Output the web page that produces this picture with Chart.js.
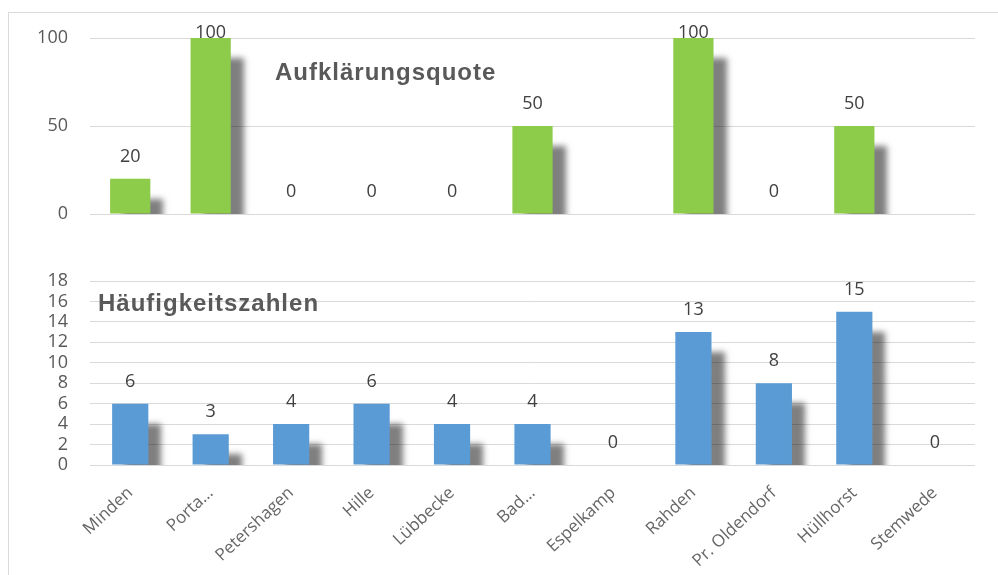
<!DOCTYPE html>
<html>
<head>
<meta charset="utf-8">
<script src="https://cdn.jsdelivr.net/npm/chart.js@4.4.1/dist/chart.umd.min.js"></script>
<style>
  body { margin: 0; background: #fff; width: 998px; height: 575px; overflow: hidden; position: relative; }
  #frame { position: absolute; left: 8px; top: 12px; width: 1000px; height: 600px; border-top: 1px solid #d9d9d9; border-left: 1px solid #d9d9d9; }
  .box { position: absolute; left: 8px; width: 990px; }
  #topBox { top: 12px; height: 215px; }
  #bottomBox { top: 230px; height: 345px; }
</style>
</head>
<body>
<div id="frame"></div>
<div class="box" id="topBox"><canvas id="quote"></canvas></div>
<div class="box" id="bottomBox"><canvas id="counts"></canvas></div>
<script>
const towns = ['Minden', 'Porta…', 'Petershagen', 'Hille', 'Lübbecke', 'Bad…', 'Espelkamp', 'Rahden', 'Pr. Oldendorf', 'Hüllhorst', 'Stemwede'];
const quoteValues = [20, 100, 0, 0, 0, 50, null, 100, 0, 50, null];
const countValues = [6, 3, 4, 6, 4, 4, 0, 13, 8, 15, 0];
const quoteTicks = [0, 50, 100];
const countTicks = [0, 2, 4, 6, 8, 10, 12, 14, 16, 18];

const gray = '#595959';
const gridColor = '#d9d9d9';

// gray drop shadow behind the bars, like the office chart
const shadowPlugin = {
    id: 'shadow',
    beforeDatasetDraw(chart) {
        const ctx = chart.ctx;
        ctx.save();
        ctx.shadowColor = 'rgba(0,0,0,0.5)';
        ctx.shadowOffsetX = 13;
        ctx.shadowOffsetY = 20;
        ctx.shadowBlur = 6;
    },
    afterDatasetDraw(chart) {
        chart.ctx.restore();
    }
};

// value labels above each bar (kept inside the plot like excel does)
const valueLabels = {
    id: 'valueLabels',
    afterDatasetsDraw(chart) {
        const ctx = chart.ctx;
        const meta = chart.getDatasetMeta(0);
        const data = chart.data.datasets[0].data;
        ctx.save();
        ctx.font = '18px "Open Sans", sans-serif';
        ctx.fillStyle = '#404040';
        ctx.textAlign = 'center';
        ctx.textBaseline = 'middle';
        meta.data.forEach((bar, i) => {
            if (data[i] === null) return;
            const y = Math.max(bar.y - 22, chart.chartArea.top - 5);
            ctx.fillText(String(data[i]), bar.x, y);
        });
        ctx.restore();
    }
};

// chart caption inside the plot area
const caption = {
    id: 'caption',
    afterDraw(chart, args, opts) {
        const ctx = chart.ctx;
        ctx.save();
        ctx.font = 'bold 24px "Liberation Sans", Arial, sans-serif';
        ctx.letterSpacing = '1px';
        ctx.fillStyle = gray;
        ctx.textBaseline = 'middle';
        ctx.fillText(opts.text, chart.chartArea.left + opts.dx, chart.chartArea.top + opts.dy);
        ctx.restore();
    }
};

function yAxis(max, ticks) {
    return {
        min: 0,
        max: max,
        afterBuildTicks: (scale) => { scale.ticks = ticks.map(v => ({value: v})); },
        afterFit: (scale) => {
            scale.width = 82;
            // let layout.padding alone decide the plot height
            scale.paddingTop = 0;
            scale.paddingBottom = 0;
        },
        border: { display: false },
        grid: { color: gridColor, drawTicks: false, lineWidth: 1 },
        ticks: { color: gray, padding: 22, autoSkip: false, font: { family: '"Open Sans", sans-serif', size: 18 } }
    };
}

new Chart(document.getElementById('quote'), {
    type: 'bar',
    data: {
        labels: towns,
        datasets: [{
            label: 'Aufklärungsquote',
            data: quoteValues,
            backgroundColor: '#8dcb4a',
            barPercentage: 0.5,
            categoryPercentage: 1
        }]
    },
    options: {
        responsive: true,
        maintainAspectRatio: false,
        animation: false,
        layout: { padding: { top: 26, right: 23, bottom: 13, left: 0 } },
        plugins: {
            legend: { display: false },
            tooltip: { enabled: false },
            caption: { text: 'Aufklärungsquote', dx: 185, dy: 35 }
        },
        scales: {
            x: { display: false },
            y: yAxis(100, quoteTicks)
        }
    },
    plugins: [shadowPlugin, valueLabels, caption]
});

new Chart(document.getElementById('counts'), {
    type: 'bar',
    data: {
        labels: towns,
        datasets: [{
            label: 'Häufigkeitszahlen',
            data: countValues,
            backgroundColor: '#5b9bd5',
            barPercentage: 0.45,
            categoryPercentage: 1
        }]
    },
    options: {
        responsive: true,
        maintainAspectRatio: false,
        animation: false,
        layout: { padding: { top: 51, right: 23, bottom: 0, left: 0 } },
        plugins: {
            legend: { display: false },
            tooltip: { enabled: false },
            caption: { text: 'Häufigkeitszahlen', dx: 8, dy: 23 }
        },
        scales: {
            x: {
                grid: { display: false },
                border: { display: false },
                afterFit: (scale) => { scale.height = 110; },
                ticks: {
                    color: '#666666',
                    minRotation: 43,
                    maxRotation: 43,
                    padding: 10,
                    autoSkip: false,
                    font: { family: '"Open Sans", sans-serif', size: 17 }
                }
            },
            y: yAxis(18, countTicks)
        }
    },
    plugins: [shadowPlugin, valueLabels, caption]
});
</script>
</body>
</html>
